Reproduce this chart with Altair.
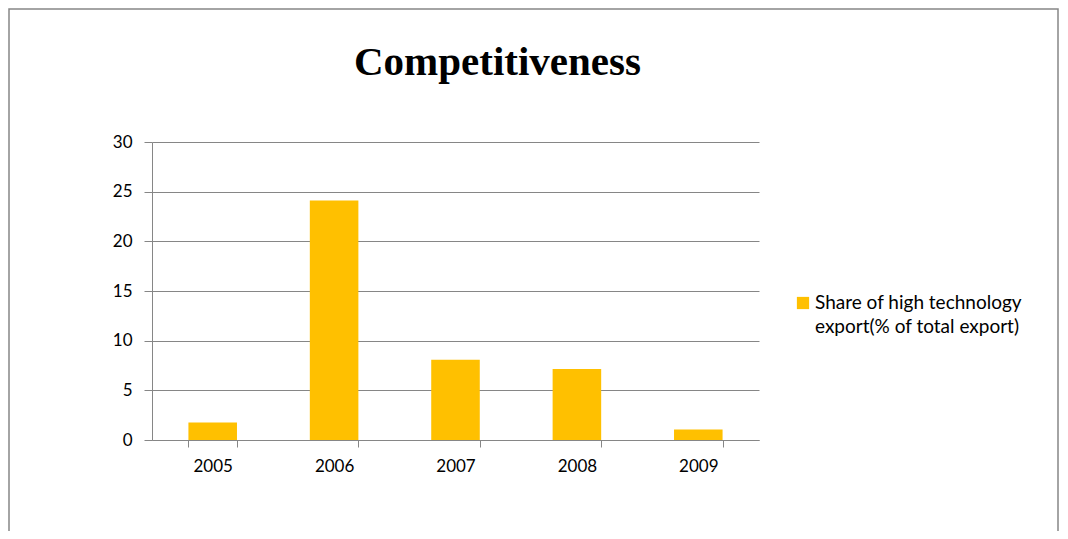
import altair as alt
import pandas as pd

years = ["2005", "2006", "2007", "2008", "2009"]
values = [1.75, 24.1, 8.07, 7.16, 1.05]
series_name = "Share of high technology|export(% of total export)"
chart_title = "Competitiveness"

df = pd.DataFrame({"year": years, "value": values})
legend_df = pd.DataFrame({"series": [series_name]})
title_df = pd.DataFrame({"title": [chart_title]})

GRAY = "#868686"
GOLD = "#FFC000"
FONT = "Lato"

bars = alt.Chart(df).mark_bar(color=GOLD).encode(
    x=alt.X("year:N", title=None,
            scale=alt.Scale(paddingInner=0.6, paddingOuter=0.3),
            axis=alt.Axis(labelAngle=0, tickBand="extent", grid=False,
                          domainColor=GRAY, tickColor=GRAY, tickSize=7,
                          labelFont=FONT, labelFontSize=17, labelColor="#000000",
                          labelPadding=11)),
    y=alt.Y("value:Q", title=None,
            scale=alt.Scale(domain=[0, 30]),
            axis=alt.Axis(values=[0, 5, 10, 15, 20, 25, 30], grid=True,
                          gridColor=GRAY, gridWidth=1,
                          domainColor=GRAY, tickColor=GRAY, tickSize=8,
                          labelFont=FONT, labelFontSize=17, labelColor="#000000",
                          labelPadding=12)),
)

legend_sym = alt.Chart(legend_df).mark_square(size=150, color=GOLD, opacity=1).encode(
    x=alt.value(651), y=alt.value(161)
)
legend_txt = alt.Chart(legend_df).mark_text(
    align="left", baseline="alphabetic", font=FONT, fontSize=19,
    color="#000000", lineBreak="|", lineHeight=24
).encode(x=alt.value(663), y=alt.value(167), text="series:N")

title_txt = alt.Chart(title_df).mark_text(
    align="center", baseline="alphabetic", font="Liberation Serif",
    fontSize=41, fontWeight="bold", color="#000000"
).encode(x=alt.value(345.5), y=alt.value(-67), text="title:N")

border = alt.Chart(pd.DataFrame({"a": [0]})).mark_rect(
    fill=None, stroke=GRAY, strokeWidth=1.5
).encode(
    x=alt.value(-143), x2=alt.value(906), y=alt.value(-133), y2=alt.value(420)
)

chart = alt.layer(border, bars, legend_sym, legend_txt, title_txt).properties(
    width=607, height=298,
    padding={"left": 144, "top": 134, "right": 301, "bottom": 91},
    autosize=alt.AutoSizeParams(type="none"),
).configure_view(stroke=None)

chart.save("out.html", embed_options={"renderer": "svg", "actions": False})
